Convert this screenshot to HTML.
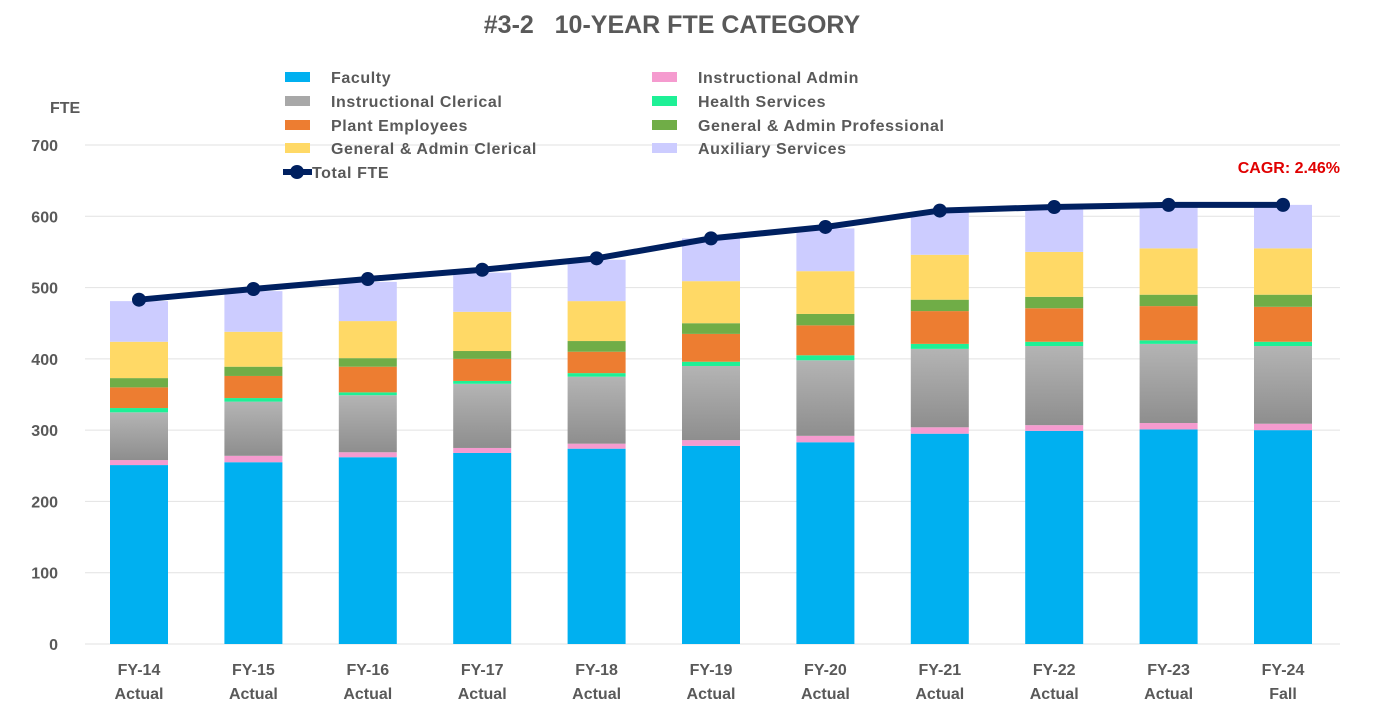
<!DOCTYPE html>
<html><head><meta charset="utf-8"><style>
body{margin:0;background:#fff;}
svg text{font-family:"Liberation Sans",sans-serif;font-weight:bold;fill:#595959;}
</style></head><body>
<svg width="1389" height="713" viewBox="0 0 1389 713" xmlns="http://www.w3.org/2000/svg">
<defs>
<linearGradient id="gray" x1="0" y1="0" x2="0" y2="1"><stop offset="0" stop-color="#b4b4b4"/><stop offset="1" stop-color="#8e8e8e"/></linearGradient>
</defs>
<text x="672" y="33" text-anchor="middle" font-size="25">#3-2&#160;&#160;&#160;10-YEAR FTE CATEGORY</text>
<text x="50" y="113" font-size="16">FTE</text>
<g id="grid"></g>
<g id="yt"></g>
<g id="bars"></g>
<g id="line"></g>
<g id="xt"></g>
<g id="legend"></g>
<text x="1340" y="173" text-anchor="end" font-size="16" style="fill:#e00000">CAGR: 2.46%</text>
</svg>
<script>
const categories=["FY-14","FY-15","FY-16","FY-17","FY-18","FY-19","FY-20","FY-21","FY-22","FY-23","FY-24"];
const subLabels=["Actual","Actual","Actual","Actual","Actual","Actual","Actual","Actual","Actual","Actual","Fall"];
const faculty=[251,255,262,268,274,278,283,295,299,301,300];
const instrAdmin=[7,9,7,7,7,8,9,9,8,9,9];
const instrClerical=[67,76,80,90,94,104,106,110,111,111,109];
const health=[6,5,4,4,5,6,7,7,6,5,6];
const plant=[29,31,36,31,30,39,42,46,47,48,49];
const gaProf=[13,13,12,11,15,15,16,16,16,16,17];
const gaClerical=[51,49,52,55,56,59,60,63,63,65,65];
const auxiliary=[57,57,55,55,58,60,60,60,62,61,61];
const totalFTE=[483,498,512,525,541,569,585,608,613,616,616];
const yTicks=[0,100,200,300,400,500,600,700];

const NS="http://www.w3.org/2000/svg";
const y0=644,yScale=(644-145)/700;
const yPos=v=>y0-v*yScale;
const x0=139,step=114.4,bw=58;
const xPos=i=>x0+i*step;
function mk(t,a,p){const e=document.createElementNS(NS,t);for(const k in a)e.setAttribute(k,a[k]);p.appendChild(e);return e;}
const grid=document.getElementById('grid'),yt=document.getElementById('yt');
yTicks.forEach(v=>{
 const l=mk('line',{x1:85,x2:1340,y1:yPos(v),y2:yPos(v),stroke:'#e2e2e2','stroke-width':1},grid);
 
 
 const t=mk('text',{x:58,y:yPos(v)+6,'text-anchor':'end','font-size':16},yt);t.textContent=v;
 
 
});
const series=[
 ["faculty",faculty,"#00b0f0"],["instructional-admin",instrAdmin,"#f59bcf"],["instructional-clerical",instrClerical,"url(#gray)"],
 ["health-services",health,"#1ef096"],["plant-employees",plant,"#ed7d31"],["ga-professional",gaProf,"#70ad47"],
 ["ga-clerical",gaClerical,"#ffd966"],["auxiliary-services",auxiliary,"#ccccff"]];
const bars=document.getElementById('bars');
categories.forEach((c,i)=>{
 let acc=0;
 series.forEach(s=>{
  const v=s[1][i];
  const r=mk('rect',{x:xPos(i)-bw/2,y:yPos(acc+v),width:bw,height:v*yScale,fill:s[2]},bars);
  
  
  acc+=v;
 });
 const xt=document.getElementById('xt');
 const t1=mk('text',{x:xPos(i),y:675,'text-anchor':'middle','font-size':16},xt);t1.textContent=c;
 
 
 const t2=mk('text',{x:xPos(i),y:699,'text-anchor':'middle','font-size':16},xt);t2.textContent=subLabels[i];
 
 
});
const lg=document.getElementById('line');
const pl=mk('polyline',{points:totalFTE.map((v,i)=>xPos(i)+','+yPos(v)).join(' '),fill:'none',stroke:'#002060','stroke-width':6,'stroke-linejoin':'round'},lg);


totalFTE.forEach((v,i)=>{
 const c=mk('circle',{cx:xPos(i),cy:yPos(v),r:7,fill:'#002060'},lg);
 
 
});
const leg=document.getElementById('legend');
const items=[["Faculty","#00b0f0",285,77],["Instructional Clerical","#a8a8a8",285,101],["Plant Employees","#ed7d31",285,125],["General & Admin Clerical","#ffd966",285,148],
 ["Instructional Admin","#f59bcf",652,77],["Health Services","#1ef096",652,101],["General & Admin Professional","#70ad47",652,125],["Auxiliary Services","#ccccff",652,148]];
items.forEach(it=>{
 const g=mk('g',{},leg);
 
 
 mk('rect',{x:it[2],y:it[3]-5,width:25,height:10,fill:it[1]},g);
 const t=mk('text',{x:it[2]+46,y:it[3]+6,'font-size':16,'letter-spacing':'0.6'},g);t.textContent=it[0];
});
const g2=mk('g',{},leg);


mk('line',{x1:283,x2:312,y1:172,y2:172,stroke:'#002060','stroke-width':6},g2);
mk('circle',{cx:297,cy:172,r:7,fill:'#002060'},g2);
const tt=mk('text',{x:312,y:178,'font-size':16,'letter-spacing':'0.6'},g2);tt.textContent="Total FTE";
</script>
</body></html>
